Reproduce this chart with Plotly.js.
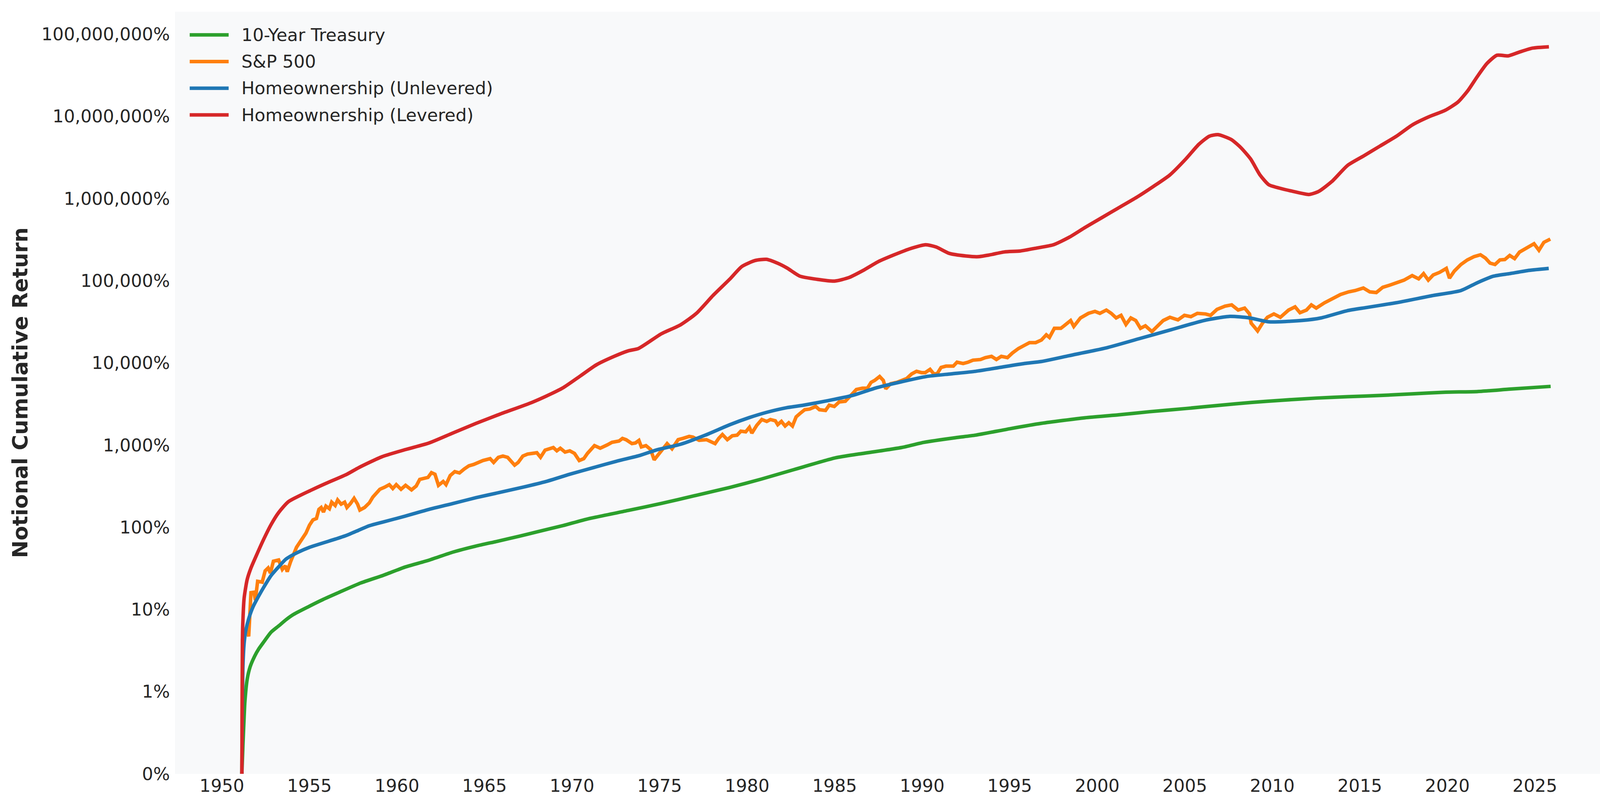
<!DOCTYPE html>
<html>
<head>
<meta charset="utf-8">
<script src="https://cdn.plot.ly/plotly-3.0.1.min.js"></script>
<style>
  html, body { margin: 0; padding: 0; background: #ffffff; }
  #chart { width: 4169px; height: 2070px; }
</style>
</head>
<body>
<div id="chart"></div>
<script>
// --- data (cumulative return, in %) ---
const treasuryYears = [1951.14, 1951.2, 1951.27, 1951.31, 1951.44, 1951.61, 1951.87, 1952.1, 1952.38, 1952.81, 1953.24, 1953.66, 1954.09, 1954.94, 1955.8, 1956.65, 1957.93, 1959.21, 1960.5, 1961.78, 1963.21, 1964.5, 1965.8, 1967.0, 1968.0, 1969.5, 1970.8, 1973.2, 1975.1, 1977.1, 1979.0, 1980.8, 1982.7, 1985.05, 1986.4, 1988.83, 1990.1, 1991.9, 1993.05, 1995.0, 1996.8, 1999.3, 2001.2, 2003.0, 2005.1, 2007.0, 2008.8, 2010.6, 2012.5, 2014.3, 2016.2, 2018.0, 2019.9, 2021.7, 2023.6, 2025.9];
const treasuryReturn = [0, 0.35, 0.7, 0.87, 1.4, 2.0, 2.7, 3.3, 4.0, 5.3, 6.3, 7.5, 8.7, 10.8, 13.3, 16, 21, 26, 33, 39.5, 50, 59, 68, 78, 88, 105, 125, 160, 195, 245, 305, 385, 505, 700, 780, 935, 1080, 1230, 1321, 1580, 1837, 2150, 2330, 2550, 2790, 3050, 3300, 3520, 3730, 3880, 4020, 4200, 4400, 4480, 4800, 5180];

const sp500Years = [1951.14, 1951.17, 1951.4, 1951.53, 1951.66, 1951.83, 1951.91, 1952.04, 1952.3, 1952.47, 1952.64, 1952.77, 1952.94, 1953.24, 1953.45, 1953.62, 1953.73, 1953.92,
    1954.26, 1954.53, 1954.8, 1955.0, 1955.2, 1955.4, 1955.54, 1955.67, 1955.8, 1955.94, 1956.14, 1956.27, 1956.47, 1956.61, 1956.81, 1957.01, 1957.14, 1957.34, 1957.55, 1957.75, 1957.88, 1958.15, 1958.42, 1958.62, 1959.02, 1959.29, 1959.56, 1959.76, 1959.96,
    1960.23, 1960.49, 1960.83, 1961.1, 1961.3, 1961.56, 1961.77, 1961.97, 1962.17, 1962.37, 1962.64, 1962.8, 1963.04, 1963.3, 1963.57, 1963.84, 1964.11, 1964.38, 1964.65, 1964.91, 1965.32, 1965.52, 1965.79, 1966.05, 1966.32, 1966.52, 1966.72, 1966.92, 1967.19, 1967.46, 1967.79, 1967.99, 1968.2, 1968.46, 1968.93, 1969.13, 1969.33, 1969.6, 1969.87,
    1970.14, 1970.41, 1970.67, 1970.88, 1971.28, 1971.61, 1971.81, 1972.01, 1972.28, 1972.55, 1972.68, 1972.88, 1973.09, 1973.42, 1973.62, 1973.82, 1973.96, 1974.22, 1974.49, 1974.69, 1974.87, 1975.15, 1975.43, 1975.71, 1976.06, 1976.34, 1976.69, 1976.9, 1977.26, 1977.68, 1977.89, 1978.17, 1978.38, 1978.59, 1978.87, 1979.15, 1979.43, 1979.64, 1979.92,
    1980.13, 1980.27, 1980.55, 1980.84, 1981.12, 1981.33, 1981.61, 1981.75, 1981.96, 1982.17, 1982.38, 1982.59, 1982.8, 1983.01, 1983.29, 1983.57, 1983.92, 1984.13, 1984.48, 1984.69, 1984.98, 1985.26, 1985.61, 1986.03, 1986.24, 1986.59, 1986.87, 1987.08, 1987.29, 1987.57, 1987.78, 1987.92, 1988.2, 1988.55, 1988.83, 1989.12, 1989.4, 1989.68, 1989.96,
    1990.17, 1990.45, 1990.66, 1990.87, 1991.08, 1991.36, 1991.78, 1991.99, 1992.34, 1992.62, 1992.9, 1993.33, 1993.61, 1993.96, 1994.24, 1994.52, 1994.87, 1995.15, 1995.5, 1995.85, 1996.13, 1996.48, 1996.81, 1997.09, 1997.27, 1997.55, 1997.92, 1998.11, 1998.48, 1998.66, 1999.04, 1999.5, 1999.87,
    2000.15, 2000.52, 2000.8, 2001.08, 2001.36, 2001.64, 2001.92, 2002.2, 2002.47, 2002.75, 2003.12, 2003.4, 2003.77, 2004.15, 2004.61, 2004.98, 2005.35, 2005.72, 2006.19, 2006.47, 2006.84, 2007.3, 2007.68, 2008.05, 2008.42, 2008.7, 2008.79, 2008.98, 2009.16, 2009.44, 2009.72,
    2010.09, 2010.46, 2010.93, 2011.3, 2011.58, 2011.95, 2012.23, 2012.51, 2012.97, 2013.43, 2013.9, 2014.36, 2014.73, 2015.2, 2015.57, 2015.94, 2016.31, 2016.68, 2017.06, 2017.52, 2017.99, 2018.36, 2018.64, 2018.91, 2019.19, 2019.56, 2019.94,
    2020.12, 2020.4, 2020.77, 2021.14, 2021.52, 2021.89, 2022.17, 2022.44, 2022.72, 2023.0, 2023.28, 2023.56, 2023.84, 2024.12, 2024.49, 2024.95, 2025.23, 2025.51, 2025.88];
const sp500Return = [0, 4.3, 6, 4.7, 16, 16.2, 13, 22, 21.5, 29.5, 32, 27.7, 38.6, 40, 30.7, 34, 28.8, 38,
    57, 69, 85, 106, 123, 128, 165, 174, 153, 181, 168, 202, 184, 215, 191, 202, 174, 194, 225, 191, 162, 174, 198, 233, 290, 307, 330, 296, 330,
    290, 324, 285, 318, 382, 396, 404, 462, 442, 324, 361, 330, 426, 475, 458, 512, 560, 581, 614, 649, 684, 614, 710, 736, 710, 637, 570, 614, 736, 778, 807, 807, 710, 868, 933, 852, 916, 822, 852,
    792, 649, 684, 792, 986, 916, 950, 1005, 1081, 1101, 1120, 1205, 1162, 1043, 1061, 1141, 950, 986, 883, 661, 738, 885, 1043, 902, 1164, 1208, 1275, 1251, 1143, 1164, 1122, 1043, 1208, 1346, 1164, 1297, 1321, 1475, 1448,
    1645, 1397, 1738, 2047, 1939, 2047, 1977, 1770, 1939, 1706, 1870, 1706, 2203, 2415, 2694, 2743, 2951, 2694, 2642, 3060, 2951, 3351, 3413, 4248, 4742, 4920, 4920, 5798, 6125, 6830, 6125, 4830, 5585, 5798, 6125, 6470, 7350, 7900, 7620,
    7620, 8350, 7350, 7480, 8820, 9140, 9140, 10200, 9840, 10200, 10790, 11000, 11600, 12020, 11000, 12020, 11600, 13180, 14970, 16400, 17650, 17650, 18970, 21950, 20400, 26370, 26370, 28300, 32800, 27800, 35250, 40090, 42360,
    40090, 43950, 40090, 35250, 37900, 29370, 35250, 32800, 26370, 28300, 24040, 27800, 32800, 35900, 33400, 37900, 36550, 40090, 39400, 37900, 44770, 49000, 50800, 43950, 46400, 39400, 30460, 27300, 24500, 30460, 35900,
    39400, 35900, 43950, 48100, 40800, 43950, 50800, 46400, 53700, 61000, 68000, 73200, 75900, 81600, 73200, 71800, 83200, 87900, 94500, 101600, 115500, 105400, 122000, 101600, 117500, 126500, 141200,
    107400, 131200, 157400, 179000, 196000, 207000, 189000, 163500, 157400, 179000, 181000, 203000, 186000, 223000, 248000, 282000, 235000, 293000, 321000];

const unleveredYears = [1951.14, 1951.2, 1951.27, 1951.36, 1951.53, 1951.78, 1952.04, 1952.38, 1952.81, 1953.24, 1953.66, 1954.26, 1955.0, 1956.5, 1957.14, 1957.81, 1958.4, 1959.15, 1960.49, 1961.83, 1963.17, 1964.51, 1965.85, 1967.19, 1968.53, 1969.87, 1971.21, 1972.55, 1973.89, 1974.8, 1976.2, 1977.61, 1979.01, 1980.13, 1981.12, 1982.24, 1983.22, 1984.62, 1986.03, 1987.43, 1988.83, 1990.24, 1991.64, 1993.05, 1994.45, 1995.85, 1996.8, 1998.39, 2000.52, 2002.38, 2004.24, 2006.1, 2007.58, 2008.7, 2009.81, 2011.67, 2012.78, 2014.27, 2015.38, 2017.24, 2019.1, 2020.77, 2021.7, 2022.63, 2023.56, 2024.67, 2025.79];
const unleveredReturn = [0, 2, 3.9, 5.5, 7.7, 10.8, 13.8, 18.5, 25.9, 33, 41, 48.6, 57, 72, 80, 92, 104, 115, 137, 165, 194, 229, 265, 307, 361, 442, 531, 637, 750, 870, 1023, 1321, 1770, 2163, 2505, 2845, 3060, 3475, 4025, 5012, 5900, 6830, 7350, 7900, 8820, 9840, 10400, 12250, 15250, 19680, 25410, 32810, 36830, 35250, 31600, 32800, 35250, 43150, 47200, 54700, 65600, 75900, 94400, 113500, 122000, 133600, 141200];

const leveredYears = [1951.14, 1951.17, 1951.19, 1951.27, 1951.44, 1951.66, 1951.96, 1952.38, 1952.81, 1953.24, 1953.8, 1955.13, 1955.94, 1957.14, 1957.81, 1959.15, 1960.49, 1961.83, 1963.17, 1964.51, 1965.85, 1967.7, 1968.8, 1969.5, 1970.5, 1971.4, 1972.4, 1973.2, 1973.8, 1975.1, 1976.2, 1977.1, 1978.05, 1979.0, 1979.7, 1980.45, 1981.1, 1981.75, 1982.3, 1983.0, 1984.0, 1985.0, 1985.8, 1986.7, 1987.5, 1988.6, 1989.3, 1990.2, 1990.8, 1991.55, 1992.5, 1993.2, 1993.8, 1994.7, 1995.6, 1996.55, 1997.5, 1998.4, 1999.3, 2000.25, 2001.2, 2002.3, 2003.2, 2004.14, 2005.06, 2005.8, 2006.4, 2006.9, 2007.65, 2008.2, 2008.76, 2009.3, 2009.8, 2010.4, 2011.2, 2012.1, 2012.65, 2013.4, 2014.3, 2015.24, 2016.16, 2017.09, 2018.0, 2018.94, 2019.86, 2020.6, 2021.16, 2021.72, 2022.27, 2022.83, 2023.47, 2024.12, 2024.86, 2025.8];
const leveredReturn = [0, 4, 6.5, 13.8, 23, 32, 45, 71, 108, 151, 205, 285, 342, 442, 531, 723, 883, 1061, 1397, 1834, 2366, 3300, 4200, 5000, 7000, 9500, 12000, 14000, 15000, 22600, 29100, 40000, 66000, 104000, 149000, 176000, 182000, 163000, 142000, 114000, 104000, 99000, 109000, 136000, 171000, 215000, 245000, 274000, 257000, 215000, 200000, 196000, 205000, 224000, 230000, 250000, 274000, 338000, 444000, 583000, 766000, 1050000, 1400000, 1930000, 3030000, 4560000, 5730000, 5990000, 5230000, 4170000, 3030000, 1930000, 1470000, 1340000, 1220000, 1120000, 1220000, 1610000, 2530000, 3320000, 4360000, 5730000, 7870000, 9870000, 11800000, 14900000, 20400000, 30700000, 44200000, 55400000, 54400000, 60600000, 67600000, 70200000];

const yearTicks = [1950, 1955, 1960, 1965, 1970, 1975, 1980, 1985, 1990, 1995, 2000, 2005, 2010, 2015, 2020, 2025];
const returnTicks = [0, 1, 10, 100, 1000, 10000, 100000, 1000000, 10000000, 100000000];

// symlog: linear between 0% and 1%, one decade per unit above
function symlog(v) {
    return v <= 1 ? v : 1 + Math.log10(v);
}

const seriesList = [
    { name: '10-Year Treasury', x: treasuryYears, y: treasuryReturn, color: '#2ca02c', shape: 'spline' },
    { name: 'S&P 500', x: sp500Years, y: sp500Return, color: '#ff7f0e', shape: 'linear' },
    { name: 'Homeownership (Unlevered)', x: unleveredYears, y: unleveredReturn, color: '#1f77b4', shape: 'spline' },
    { name: 'Homeownership (Levered)', x: leveredYears, y: leveredReturn, color: '#d62728', shape: 'spline' }
];

const traces = seriesList.map(s => ({
    x: s.x,
    y: s.y.map(symlog),
    name: s.name,
    type: 'scatter',
    mode: 'lines',
    line: { color: s.color, width: 9, shape: s.shape, smoothing: 0.6 },
    hoverinfo: 'skip',
    showlegend: false
}));

const textColor = '#262626';
const baseFont = { family: '"DejaVu Sans", sans-serif', size: 45, color: textColor };

// legend drawn as key lines + labels in the top-left corner of the plot
const legendShapes = [];
const legendLabels = [];
seriesList.forEach((s, i) => {
    const yPos = 0.9696 - i * 0.035;
    legendShapes.push({
        type: 'line', xref: 'paper', yref: 'paper',
        x0: 0.0102, x1: 0.0372, y0: yPos, y1: yPos,
        line: { color: s.color, width: 9 }
    });
    legendLabels.push({
        xref: 'paper', yref: 'paper', x: 0.0455, y: yPos,
        xanchor: 'left', yanchor: 'middle', showarrow: false,
        text: s.name, font: baseFont
    });
});

const layout = {
    width: 4169, height: 2070,
    paper_bgcolor: '#ffffff', plot_bgcolor: '#f8f9fa',
    font: baseFont,
    margin: { l: 448, r: 29, t: 30, b: 90 },
    showlegend: false,
    shapes: legendShapes,
    annotations: legendLabels,
    xaxis: {
        range: [1947.32, 2029.7],
        tickvals: yearTicks, ticktext: yearTicks.map(String),
        showgrid: false, zeroline: false, showline: false, ticks: '',
        tickfont: baseFont
    },
    yaxis: {
        range: [0, 9.273],
        tickvals: returnTicks.map(symlog),
        ticktext: returnTicks.map(v => v.toLocaleString('en-US') + '%'),
        showgrid: false, zeroline: false, showline: false, ticks: '',
        ticklabelstandoff: 12,
        tickfont: baseFont,
        title: {
            text: 'Notional Cumulative Return',
            font: { family: '"DejaVu Sans", sans-serif', size: 54, color: textColor, weight: 'bold' },
            standoff: 18
        }
    }
};

Plotly.newPlot('chart', traces, layout, { displayModeBar: false, staticPlot: true });
</script>
</body>
</html>
